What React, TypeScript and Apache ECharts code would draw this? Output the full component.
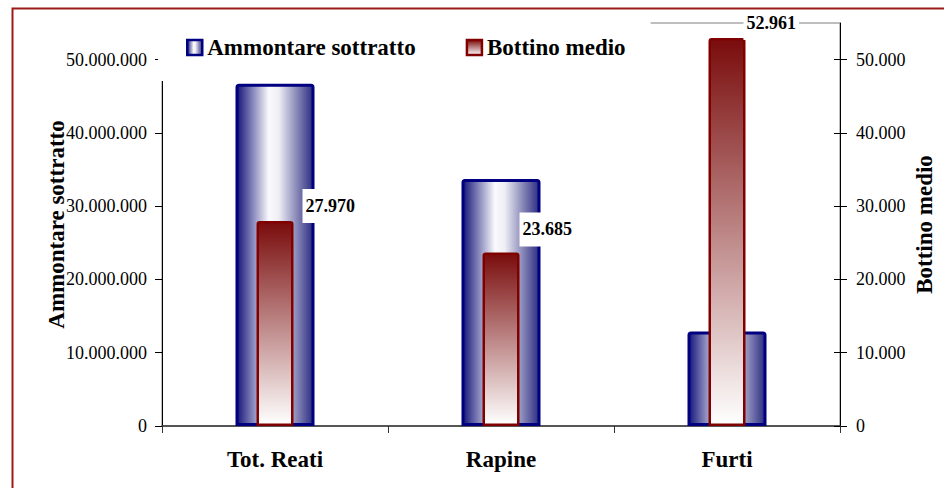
import React, { useEffect, useRef } from "react";
import * as echarts from "echarts";

const categories = ["Tot. Reati", "Rapine", "Furti"];
const ammontareSottratto = [46700000, 33700000, 12900000];
const bottinoMedio = [27970, 23685, 52961];
const leftTicks = [0, 10000000, 20000000, 30000000, 40000000, 50000000];
const rightTicks = [0, 10000, 20000, 30000, 40000, 50000];

const SERIES_A = "Ammontare sottratto";
const SERIES_B = "Bottino medio";

// label offsets (style, not data)
const labelOffsets: [number, number][] = [
  [9, -15],
  [0, -23],
  [-2, -15],
];

const FONT = "'Liberation Serif', 'Times New Roman', serif";

function fmt(n: number): string {
  return String(Math.round(n)).replace(/\B(?=(\d{3})+(?!\d))/g, ".");
}

const blueGrad = () =>
  new echarts.graphic.LinearGradient(0, 0, 1, 0, [
    { offset: 0, color: "#15157a" },
    { offset: 0.42, color: "#fafafd" },
    { offset: 0.55, color: "#eeeef4" },
    { offset: 1, color: "#2c2c82" },
  ]);

const redGrad = () =>
  new echarts.graphic.LinearGradient(0, 0, 0, 1, [
    { offset: 0, color: "#7a0c0c" },
    { offset: 1, color: "#ffffff" },
  ]);

export default function App() {
  const ref = useRef<HTMLDivElement>(null);

  useEffect(() => {
    if (!ref.current) return;
    const chart = echarts.init(ref.current, undefined, { renderer: "svg" });
    const axisLabelStyle = { color: "#000", fontFamily: FONT, fontSize: 18 };
    const option: any = {
      animation: false,
      backgroundColor: "#ffffff",
      textStyle: { fontFamily: FONT },
      grid: {
        left: 162,
        right: 104,
        top: 23,
        bottom: 62,
        show: true,
        borderColor: "#7f7f7f",
        borderWidth: 1,
        backgroundColor: "transparent",
      },
      legend: {
        left: 158,
        top: 14,
        padding: [22, 25, 22, 28],
        backgroundColor: "#ffffff",
        itemGap: 50,
        itemWidth: 15,
        itemHeight: 15,
        icon: "rect",
        textStyle: { fontFamily: FONT, fontSize: 23, fontWeight: "bold", color: "#000" },
        data: [
          { name: SERIES_A, itemStyle: { color: blueGrad(), borderColor: "#000080", borderWidth: 2.5 } },
          { name: SERIES_B, itemStyle: { color: redGrad(), borderColor: "#800000", borderWidth: 2.5 } },
        ],
      },
      xAxis: [
        {
          type: "category",
          data: categories,
          position: "bottom",
          axisLine: { show: true, lineStyle: { color: "#333", width: 1.5 } },
          axisTick: { show: true, length: 7, lineStyle: { color: "#333" } },
          axisLabel: {
            color: "#000",
            fontFamily: FONT,
            fontSize: 23,
            fontWeight: "bold",
            margin: 22,
          },
        },
        {
          type: "category",
          data: categories,
          show: false,
        },
      ],
      yAxis: [
        {
          type: "value",
          position: "left",
          min: 0,
          max: 55000000,
          interval: 10000000,
          splitLine: { show: false },
          axisLine: { show: true, lineStyle: { color: "#000" } },
          axisTick: { show: true, length: 7, lineStyle: { color: "#000" }, customValues: leftTicks },
          axisLabel: {
            ...axisLabelStyle,
            margin: 15,
            customValues: leftTicks,
            formatter: (v: number) => (v > 50000000 ? "" : fmt(v)),
          },
          name: SERIES_A,
          nameLocation: "middle",
          nameRotate: 90,
          nameGap: 94,
          nameMoveOverlap: false,
          nameTextStyle: { fontFamily: FONT, fontSize: 23, fontWeight: "bold", color: "#000" },
        },
        {
          type: "value",
          position: "right",
          min: 0,
          max: 55000,
          interval: 10000,
          splitLine: { show: false },
          axisLine: { show: true, lineStyle: { color: "#000" } },
          axisTick: { show: true, length: 7, lineStyle: { color: "#000" }, customValues: rightTicks },
          axisLabel: {
            ...axisLabelStyle,
            margin: 16,
            customValues: rightTicks,
            formatter: (v: number) => (v > 50000 ? "" : fmt(v)),
          },
          name: SERIES_B,
          nameLocation: "middle",
          nameRotate: 90,
          nameGap: 73,
          nameMoveOverlap: false,
          nameTextStyle: { fontFamily: FONT, fontSize: 23, fontWeight: "bold", color: "#000" },
        },
        {
          type: "value",
          position: "right",
          min: 0,
          max: 55000,
          interval: 10000,
          splitLine: { show: false },
          axisLine: { show: false },
          axisTick: { show: true, inside: true, length: 6, lineStyle: { color: "#000" }, customValues: rightTicks },
          axisLabel: { show: false },
        },
      ],
      series: [
        {
          name: SERIES_A,
          type: "bar",
          xAxisIndex: 0,
          yAxisIndex: 0,
          barWidth: 79,
          data: ammontareSottratto,
          itemStyle: {
            color: blueGrad(),
            borderColor: "#000080",
            borderWidth: 3,
            borderRadius: [2, 2, 0, 0],
          },
          z: 2,
        },
        {
          name: SERIES_B,
          type: "bar",
          xAxisIndex: 1,
          yAxisIndex: 1,
          barWidth: 37,
          data: bottinoMedio.map((v, i) => ({
            value: v,
            label: { offset: labelOffsets[i] },
          })),
          itemStyle: {
            color: redGrad(),
            borderColor: "#800000",
            borderWidth: 2.5,
            borderRadius: [2, 2, 0, 0],
          },
          label: {
            show: true,
            position: ["100%", 0],
            align: "left",
            verticalAlign: "middle",
            formatter: (p: any) => fmt(p.value),
            fontFamily: FONT,
            fontSize: 18,
            fontWeight: "bold",
            color: "#000",
            backgroundColor: "#ffffff",
            padding: [8, 3],
          },
          z: 3,
        },
      ],
      graphic: [
        {
          type: "rect",
          left: 10,
          top: 6,
          shape: { x: 0, y: 0, width: 1000, height: 1000 },
          style: { fill: "none", stroke: "#9c1a1a", lineWidth: 2 },
          silent: true,
          z: 10,
        },
      ],
    };
    chart.setOption(option);
    return () => chart.dispose();
  }, []);

  return (
    <div
      ref={ref}
      style={{ position: "fixed", left: 0, top: 0, width: 944, height: 488 }}
    />
  );
}
